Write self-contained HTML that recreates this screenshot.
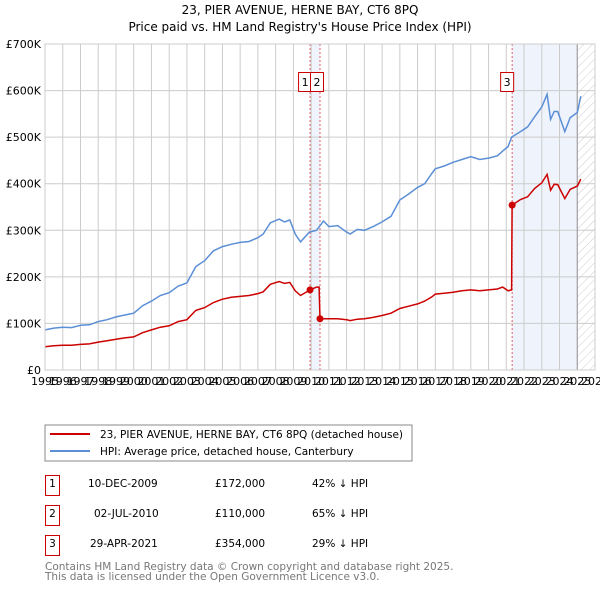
<!DOCTYPE html>
<html><head><meta charset="utf-8"><style>
body{margin:0;background:#fff;font-family:"DejaVu Sans","Liberation Sans",sans-serif;}
svg{display:block}
</style></head><body>
<svg id="chart" width="600" height="590" font-family="DejaVu Sans, Liberation Sans, sans-serif">
<text x="300" y="14" text-anchor="middle" font-size="12" fill="#000">23, PIER AVENUE, HERNE BAY, CT6 8PQ</text>
<text x="300" y="31" text-anchor="middle" font-size="12" fill="#000">Price paid vs. HM Land Registry's House Price Index (HPI)</text>
<defs><pattern id="hatch" width="6" height="6" patternUnits="userSpaceOnUse" patternTransform="rotate(45)"><line x1="0" y1="0" x2="0" y2="6" stroke="#ccc" stroke-width="1"/></pattern></defs>
<g id="plot"></g>
<g>
<rect x="45" y="425" width="367" height="36" fill="#fff" stroke="#888"/>
<line x1="50" y1="434" x2="90" y2="434" stroke="#cc0000" stroke-width="2"/>
<text x="100" y="438" font-size="10.5">23, PIER AVENUE, HERNE BAY, CT6 8PQ (detached house)</text>
<line x1="50" y1="451" x2="90" y2="451" stroke="#5b8fd6" stroke-width="2"/>
<text x="100" y="455" font-size="10.5">HPI: Average price, detached house, Canterbury</text>
</g>
<g font-size="10.5">
<rect x="45.5" y="475.5" width="14" height="20" fill="none" stroke="#cc0000"/><text x="52.5" y="487" text-anchor="middle">1</text>
<text x="88" y="487">10-DEC-2009</text><text x="215" y="487">£172,000</text><text x="312" y="487">42% ↓ HPI</text>
<rect x="45.5" y="505.5" width="14" height="20" fill="none" stroke="#cc0000"/><text x="52.5" y="517" text-anchor="middle">2</text>
<text x="94" y="517">02-JUL-2010</text><text x="215" y="517">£110,000</text><text x="312" y="517">65% ↓ HPI</text>
<rect x="45.5" y="535.5" width="14" height="20" fill="none" stroke="#cc0000"/><text x="52.5" y="547" text-anchor="middle">3</text>
<text x="90" y="547">29-APR-2021</text><text x="215" y="547">£354,000</text><text x="312" y="547">29% ↓ HPI</text>
</g>
<text x="45" y="570" font-size="10.5" fill="#777">Contains HM Land Registry data © Crown copyright and database right 2025.</text>
<text x="45" y="580" font-size="10.5" fill="#777">This data is licensed under the Open Government Licence v3.0.</text>
</svg>
<script>
const years=[1995,1996,1997,1998,1999,2000,2001,2002,2003,2004,2005,2006,2007,2008,2009,2010,2011,2012,2013,2014,2015,2016,2017,2018,2019,2020,2021,2022,2023,2024,2025,2026];
const yTicks=[0,100,200,300,400,500,600,700];
const yLabels=["£0","£100K","£200K","£300K","£400K","£500K","£600K","£700K"];
const hpiT=[1995,1995.5,1996,1996.5,1997,1997.5,1998,1998.5,1999,1999.5,2000,2000.5,2001,2001.5,2002,2002.5,2003,2003.5,2004,2004.5,2005,2005.5,2006,2006.5,2007,2007.3,2007.7,2008.2,2008.5,2008.8,2009.1,2009.4,2009.9,2010.3,2010.7,2011,2011.5,2012,2012.2,2012.6,2013,2013.5,2014,2014.5,2015,2015.5,2016,2016.4,2016.8,2017,2017.5,2018,2018.5,2019,2019.5,2020,2020.5,2020.8,2021.1,2021.3,2021.8,2022.2,2022.6,2023,2023.3,2023.5,2023.7,2023.9,2024.3,2024.6,2025,2025.2];
const hpiV=[86,90,92,91,96,97,104,108,114,118,122,138,148,160,166,180,187,222,235,256,265,270,274,276,284,292,316,324,318,322,292,275,296,300,320,308,310,296,292,302,300,308,318,330,365,378,392,400,422,432,438,446,452,458,452,455,460,470,480,500,512,522,544,565,592,538,555,555,512,542,553,588];
const redT=[1995,1995.5,1996,1996.5,1997,1997.5,1998,1998.5,1999,1999.5,2000,2000.5,2001,2001.5,2002,2002.5,2003,2003.5,2004,2004.5,2005,2005.5,2006,2006.5,2007,2007.3,2007.7,2008.2,2008.5,2008.8,2009.1,2009.4,2009.94,2010.3,2010.45,2010.5,2011,2011.5,2012,2012.2,2012.6,2013,2013.5,2014,2014.5,2015,2015.5,2016,2016.4,2016.8,2017,2017.5,2018,2018.5,2019,2019.5,2020,2020.5,2020.8,2021.1,2021.3,2021.33,2021.8,2022.2,2022.6,2023,2023.3,2023.5,2023.7,2023.9,2024.3,2024.6,2025,2025.2];
const redV=[50,52,53,53,55,56,60,63,66,69,71,80,86,92,95,104,108,128,134,145,152,156,158,160,164,168,184,190,186,188,170,160,172,178,178,110,110,110,108,106,109,110,113,117,122,132,137,142,148,157,163,165,167,170,172,170,172,174,178,170,172,354,366,372,390,402,420,386,399,398,368,388,395,410];
const sales=[[2009.94,172,"1"],[2010.5,110,"2"],[2021.33,354,"3"]];
const X0=45,X1=595,Y0=370,Y1=44;
const sx=t=>X0+(t-1995)/(2026-1995)*(X1-X0);
const sy=v=>Y0-v/700*(Y0-Y1);
const NS="http://www.w3.org/2000/svg";
const g=document.getElementById('plot');
function mk(tag,attrs,parent){const e=document.createElementNS(NS,tag);for(const k in attrs)e.setAttribute(k,attrs[k]);(parent||g).appendChild(e);return e;}
let e;
e=mk('rect',{x:sx(2009.94),y:Y1,width:sx(2010.5)-sx(2009.94),height:Y0-Y1,fill:'#eef3fc'});


e=mk('rect',{x:sx(2021.33),y:Y1,width:sx(2025)-sx(2021.33),height:Y0-Y1,fill:'#eef3fc'});


e=mk('rect',{x:sx(2025),y:Y1,width:X1-sx(2025),height:Y0-Y1,fill:'url(#hatch)'});


years.forEach((y,i)=>{
 e=mk('line',{x1:sx(y),x2:sx(y),y1:Y1,y2:Y0,stroke:'#ccc','stroke-width':1});
 
 
 e=mk('text',{x:sx(y),y:Y0+15,'font-size':11,'text-anchor':'middle'});
 e.textContent=y;
 
 
});
yTicks.forEach((v,i)=>{
 e=mk('line',{x1:X0,x2:X1,y1:sy(v),y2:sy(v),stroke:'#ccc','stroke-width':1});
 
 
 e=mk('text',{x:X0-4,y:sy(v)+4,'font-size':11,'text-anchor':'end'});
 e.textContent=yLabels[i];
 
 
});
e=mk('line',{x1:sx(2025),x2:sx(2025),y1:Y1,y2:Y0,stroke:'#999','stroke-width':1});


sales.forEach(s=>{
 e=mk('line',{x1:sx(s[0]),x2:sx(s[0]),y1:Y1,y2:Y0,stroke:'#e06060','stroke-width':1,'stroke-dasharray':'2,2'});
 
 
});
const pts=(T,V)=>T.map((t,i)=>sx(t).toFixed(1)+','+sy(V[i]).toFixed(1)).join(' ');
e=mk('polyline',{points:pts(hpiT,hpiV),fill:'none',stroke:'#5b8fd6','stroke-width':1.5});


e=mk('polyline',{points:pts(redT,redV),fill:'none',stroke:'#cc0000','stroke-width':1.5});


sales.forEach((s,i)=>{
 e=mk('circle',{cx:sx(s[0]),cy:sy(s[1]),r:3.5,fill:'#cc0000'});
 
 
 const bx=i===0?sx(s[0])-12:(i===1?sx(s[0])-10:sx(s[0])-12);
 e=mk('rect',{x:bx+0.5,y:72.5,width:13,height:19,fill:'#fff',stroke:'#cc0000'});
 
 
 e=mk('text',{x:bx+7,y:86,'font-size':11,'text-anchor':'middle'});
 e.textContent=s[2];
 
 
});
e=mk('rect',{x:X0,y:Y1,width:X1-X0,height:Y0-Y1,fill:'none',stroke:'#ccc'});


</script>
</body></html>
